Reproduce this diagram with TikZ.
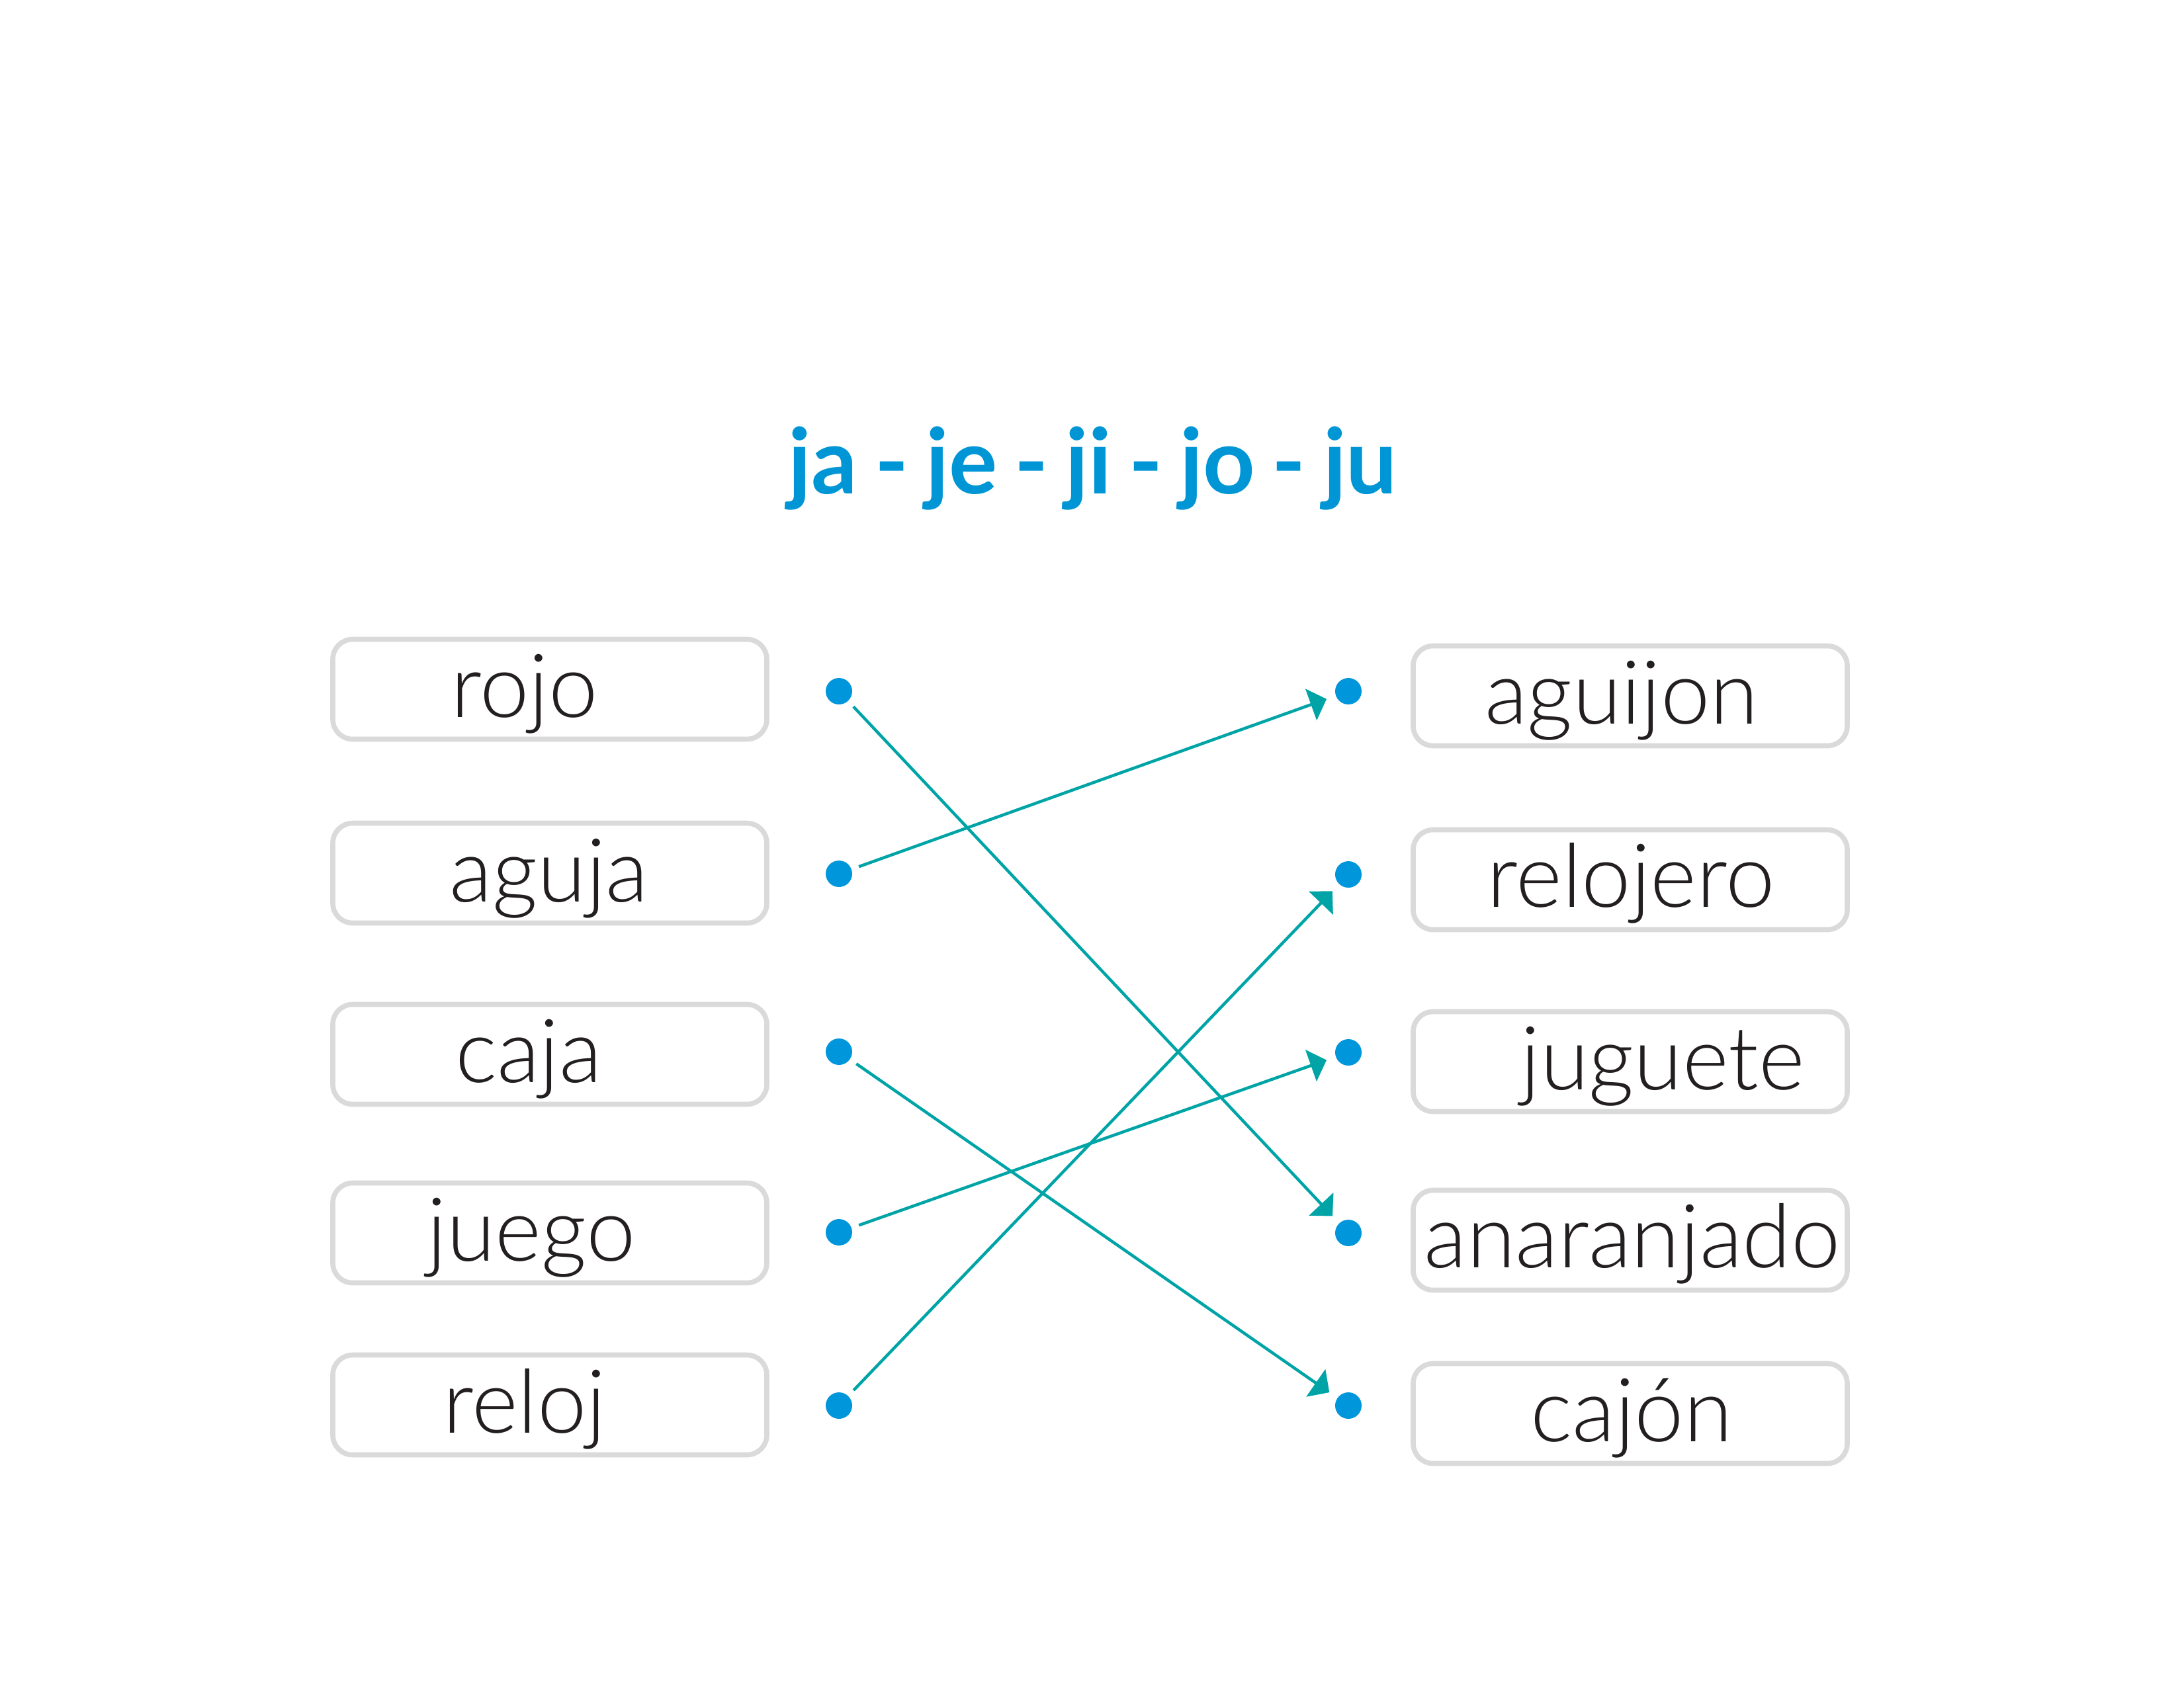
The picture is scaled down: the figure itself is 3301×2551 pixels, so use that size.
\documentclass[tikz,border=0pt]{standalone}
\usepackage{fontspec}
\usetikzlibrary{arrows.meta}
\newfontfamily\wordfont{Lato Light}
\newfontfamily\titlefont{Lato}[WordSpace=0.78]
\definecolor{titleblue}{RGB}{0,150,214}
\definecolor{dotblue}{RGB}{0,150,219}
\definecolor{linkteal}{RGB}{0,164,166}
\definecolor{boxgray}{RGB}{218,218,218}
\definecolor{ink}{RGB}{35,31,32}
\tikzset{
  wordbox/.style={draw=boxgray, line width=0.76mm, rounded corners=3mm,
    minimum width=65.6mm, minimum height=15.1mm, inner sep=0pt, fill=white},
  word/.style={anchor=base, inner sep=0pt, text=ink,
    font=\wordfont\fontsize{38pt}{40pt}\selectfont},
  heading/.style={anchor=base, inner sep=0pt, text=titleblue,
    font=\titlefont\bfseries\fontsize{39pt}{42pt}\selectfont},
  dot/.style={circle, fill=dotblue, minimum size=4mm, inner sep=0pt, outer sep=0pt},
  link/.style={draw=linkteal, line width=0.45mm,
    -{Triangle[length=2.5mm,width=5mm]},
    shorten <=1.2mm, shorten >=1.5mm}
}
\begin{document}
\begin{tikzpicture}[x=0.1mm,y=-0.1mm]
  \useasboundingbox (0,0) rectangle (3301,2551);

  % heading
  \node[heading] (title) at (1652,746) {ja - je - ji - jo - ju};

  % left column boxes
  \node[wordbox] (lb1) at (831,1042) {};
  \node[wordbox] (lb2) at (831,1320) {};
  \node[wordbox] (lb3) at (831,1594) {};
  \node[wordbox] (lb4) at (831,1864) {};
  \node[wordbox] (lb5) at (831,2124) {};
  \node[word] (lw1) at (793,1084) {rojo};
  \node[word] (lw2) at (830,1363) {aguja};
  \node[word] (lw3) at (799,1636) {caja};
  \node[word] (lw4) at (803,1906) {juego};
  \node[word] (lw5) at (793,2166) {reloj};

  % right column boxes
  \node[wordbox] (rb1) at (2464,1052) {};
  \node[wordbox] (rb2) at (2464,1330) {};
  \node[wordbox] (rb3) at (2464,1605) {};
  \node[wordbox] (rb4) at (2464,1875) {};
  \node[wordbox] (rb5) at (2464,2137) {};
  \node[word] (rw1) at (2451,1094) {aguijon};
  \node[word] (rw2) at (2465,1371) {relojero};
  \node[word] (rw3) at (2513,1647) {juguete};
  \node[word] (rw4) at (2467,1916) {anaranjado};
  \node[word] (rw5) at (2466,2179) {cajón};

  % connection dots
  \node[dot] (ld1) at (1268,1045) {};
  \node[dot] (ld2) at (1268,1321) {};
  \node[dot] (ld3) at (1268,1590) {};
  \node[dot] (ld4) at (1268,1863) {};
  \node[dot] (ld5) at (1268,2125) {};
  \node[dot] (rd1) at (2038,1045) {};
  \node[dot] (rd2) at (2038,1322) {};
  \node[dot] (rd3) at (2038,1591) {};
  \node[dot] (rd4) at (2038,1864) {};
  \node[dot] (rd5) at (2038,2125) {};

  % matching arrows
  \draw[link] (ld1) -- (rd4);
  \draw[link] (ld2) -- (rd1);
  \draw[link] (ld3) -- (rd5);
  \draw[link] (ld4) -- (rd3);
  \draw[link] (ld5) -- (rd2);
\end{tikzpicture}
\end{document}
